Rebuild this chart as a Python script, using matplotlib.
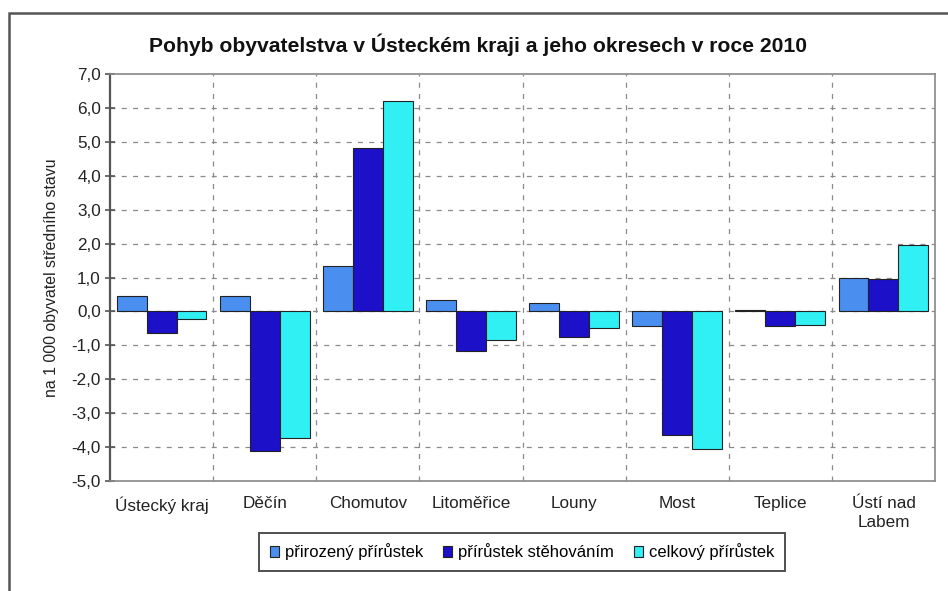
import numpy as np
import matplotlib
matplotlib.use('Agg')
import matplotlib.pyplot as plt
from matplotlib.patches import Rectangle
from matplotlib.ticker import FuncFormatter

plt.rcParams['font.family'] = ['Liberation Sans', 'DejaVu Sans']

# Okresy a ukazatele (na 1 000 obyvatel středního stavu)
okresy = ['Ústecký kraj', 'Děčín', 'Chomutov', 'Litoměřice', 'Louny',
          'Most', 'Teplice', 'Ústí nad\nLabem']
prirozeny = [0.45, 0.45, 1.35, 0.35, 0.25, -0.44, 0.05, 1.0]
stehovani = [-0.65, -4.13, 4.82, -1.17, -0.74, -3.65, -0.44, 0.95]
celkovy = [-0.22, -3.73, 6.19, -0.84, -0.49, -4.07, -0.40, 1.97]
serie = ['přirozený přírůstek', 'přírůstek stěhováním', 'celkový přírůstek']
barvy = ['#4a8ff0', '#1c10c8', '#30f0f4']

fig = plt.figure(figsize=(9.48, 5.91), dpi=100)
# rámeček grafu (vpravo a dole oříznutý)
fig.patches.append(Rectangle((9/948, -10/591), 960/948, 588/591,
                             transform=fig.transFigure, fill=False,
                             edgecolor='#555555', lw=1.8))

ax = fig.add_axes([110/948, 110/591, 825/948, 407/591])
x = np.arange(len(okresy))
w = 0.29
for i, (vals, lab, c) in enumerate(zip([prirozeny, stehovani, celkovy], serie, barvy)):
    ax.bar(x + (i - 1) * w, vals, w, color=c, edgecolor='#222222',
           linewidth=0.8, label=lab, zorder=3)

ax.set_xlim(-0.5, len(okresy) - 0.5)
ax.set_ylim(-5, 7)
ax.set_yticks(np.arange(-5, 8, 1))
ax.yaxis.set_major_formatter(FuncFormatter(lambda v, p: f'{v:.1f}'.replace('.', ',')))
ax.set_xticks(x)
ax.set_xticklabels(okresy, fontsize=12.3, color='#222222', linespacing=1.35)
ax.tick_params(axis='x', length=0, pad=11)
ax.tick_params(axis='y', direction='inout', length=7, width=1.2,
               color='#555555', labelsize=12.3, labelcolor='#222222', pad=3)

# mřížka
for yv in np.arange(-4, 7, 1):
    ax.axhline(yv, color='#8a8a8a', lw=0.9, ls=(0, (4, 5)), zorder=1)
for xv in np.arange(0.5, len(okresy) - 0.5, 1):
    ax.axvline(xv, color='#8a8a8a', lw=0.9, ls=(0, (4, 5)), zorder=1)

for s in ['top', 'right', 'bottom']:
    ax.spines[s].set_color('#888888')
    ax.spines[s].set_linewidth(1.2)
ax.spines['left'].set_color('#555555')
ax.spines['left'].set_linewidth(1.6)

ax.set_ylabel('na 1 000 obyvatel středního stavu', fontsize=11.4,
              color='#222222', labelpad=9)
fig.text(478/948, 1 - 45/591, 'Pohyb obyvatelstva v Ústeckém kraji a jeho okresech v roce 2010',
         ha='center', va='center', fontsize=15.2, fontweight='bold', color='#111111')

leg = fig.legend(loc='center', ncol=3, bbox_to_anchor=(522/948, 1 - 552/591),
                 fontsize=12, frameon=True, fancybox=False, handlelength=0.55,
                 handleheight=0.7, handletextpad=0.35, columnspacing=1.2,
                 borderpad=0.65, borderaxespad=0)
leg.get_frame().set_edgecolor('#222222')
leg.get_frame().set_linewidth(1.4)

fig.savefig('out.png', dpi=100)
